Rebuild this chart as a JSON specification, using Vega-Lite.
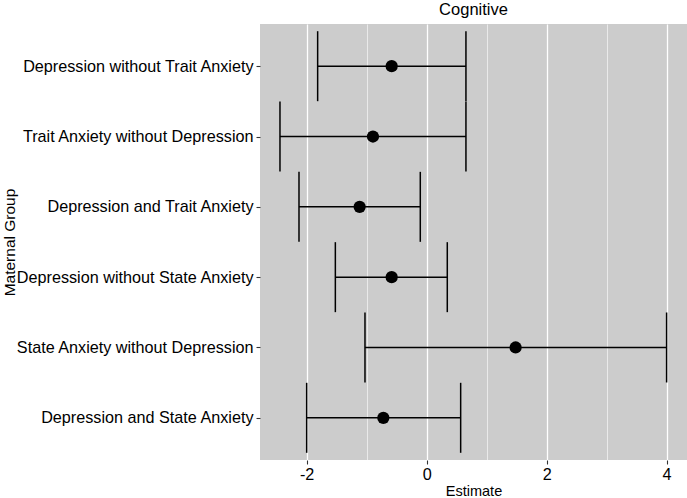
{
  "$schema": "https://vega.github.io/schema/vega-lite/v6.json",
  "autosize": {"type": "none"},
  "padding": {"left": 260, "top": 24, "right": 0, "bottom": 38},
  "width": 427,
  "height": 436,
  "background": "white",
  "title": {"text": "Cognitive", "fontSize": 16.5, "fontWeight": "normal", "font": "Liberation Sans", "color": "black", "anchor": "middle", "offset": 6},
  "config": {
    "view": {"fill": "#CCCCCC", "stroke": null},
    "font": "Liberation Sans",
    "axis": {"domain": false, "gridColor": "white", "gridOpacity": 1, "tickColor": "#333333", "tickSize": 4, "tickWidth": 1.1, "labelColor": "black", "labelFontSize": 16.2, "titleColor": "black", "titleFontWeight": "normal"},
    "axisY": {"labelLimit": 300}
  },
  "data": {"values": [
    {"group": "Depression without Trait Anxiety", "est": -0.583, "low": -1.817, "high": 0.655},
    {"group": "Trait Anxiety without Depression", "est": -0.895, "low": -2.445, "high": 0.655},
    {"group": "Depression and Trait Anxiety", "est": -1.117, "low": -2.128, "high": -0.106},
    {"group": "Depression without State Anxiety", "est": -0.583, "low": -1.522, "high": 0.344},
    {"group": "State Anxiety without Depression", "est": 1.483, "low": -1.028, "high": 4.0},
    {"group": "Depression and State Anxiety", "est": -0.722, "low": -2.0, "high": 0.567}
  ]},
  "encoding": {
    "y": {"field": "group", "type": "nominal", "sort": null,
      "scale": {"type": "point", "padding": 0.6},
      "axis": {"title": "Maternal Group", "titleFontSize": 15.5, "titleX": -243, "titleY": 218, "labelPadding": 3, "gridWidth": 1.3, "labelLimit": 300}}
  },
  "layer": [
    {
      "mark": {"type": "rule", "color": "black", "strokeWidth": 1.5},
      "encoding": {
        "x": {"field": "low", "type": "quantitative",
          "scale": {"domain": [-2.778, 4.34], "nice": false, "zero": false},
          "axis": {"values": [-2, -1, 0, 1, 2, 3, 4], "title": "Estimate", "titleFontSize": 14.5, "titlePadding": 2, "labelPadding": 2,
            "labelExpr": "datum.value % 2 === 0 ? toString(datum.value) : ''",
            "gridWidth": {"condition": {"test": "datum.value % 2 !== 0", "value": 0.6}, "value": 1.3},
            "tickOpacity": {"condition": {"test": "datum.value % 2 !== 0", "value": 0}, "value": 1}}},
        "x2": {"field": "high"}
      }
    },
    {
      "mark": {"type": "rule", "color": "black", "strokeWidth": 1.5, "strokeDash": [8, 3]},
      "encoding": {"x": {"datum": 0, "type": "quantitative"}}
    },
    {
      "mark": {"type": "tick", "color": "black", "thickness": 1.5, "size": 70, "opacity": 1},
      "encoding": {"x": {"field": "low", "type": "quantitative"}}
    },
    {
      "mark": {"type": "tick", "color": "black", "thickness": 1.5, "size": 70, "opacity": 1},
      "encoding": {"x": {"field": "high", "type": "quantitative"}}
    },
    {
      "mark": {"type": "point", "filled": true, "color": "black", "opacity": 1, "size": 150},
      "encoding": {"x": {"field": "est", "type": "quantitative"}}
    }
  ]
}
